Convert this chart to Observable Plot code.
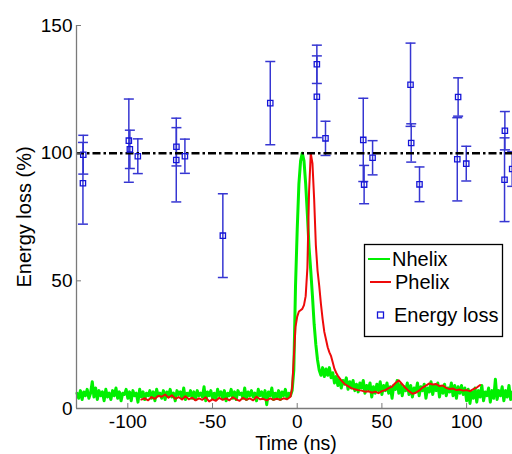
<!DOCTYPE html>
<html><head><meta charset="utf-8">
<script src="https://cdn.jsdelivr.net/npm/d3@7"></script>
<script src="https://cdn.jsdelivr.net/npm/@observablehq/plot@0.6"></script>
<style>
html,body{margin:0;padding:0;background:#fff;}
#chart{width:512px;height:454px;overflow:hidden;}
</style></head><body><div id="chart"></div>
<script>
// ---- data ----
const xTicks = [-100, -50, 0, 50, 100];
const yTicks = [0, 50, 100, 150];
const xDomain = [-130.3, 127.1];
const yDomain = [0, 150];
const referenceLevel = 100;
const seriesNames = ["Nhelix", "Phelix", "Energy loss"];
const xLabel = "Time (ns)";
const yLabel = "Energy loss (%)";

// Nhelix: sampled every 1 ns from -130 ns to 127 ns
const nhelixTime = d3.range(-130, 128);
const nhelixValues = [
  6.0,4.0,7.0,3.5,6.5,5.0,7.5,4.0,6.0,10.5,
  4.5,8.0,3.5,7.0,5.0,6.5,3.0,7.5,4.5,6.0,
  3.5,7.0,5.0,8.0,4.0,6.5,3.0,6.0,5.5,7.5,
  4.0,6.5,3.0,7.0,5.0,6.0,2.5,7.5,4.5,6.5,
  3.5,6.0,5.0,7.0,4.0,6.5,3.0,7.5,5.0,6.0,
  4.0,7.0,3.5,6.5,5.0,7.5,4.5,6.0,3.0,7.0,
  5.5,6.5,4.0,8.0,3.5,6.0,5.0,7.0,4.0,6.5,
  3.5,7.0,5.0,6.0,4.5,8.5,3.0,6.5,5.0,7.0,
  4.0,6.0,3.5,7.5,5.0,6.5,4.0,7.0,3.0,6.0,
  5.0,7.5,4.0,6.5,3.5,7.0,5.5,6.0,4.0,8.0,
  3.5,6.5,5.0,7.0,4.5,6.0,3.0,7.5,5.0,6.5,
  4.0,7.0,1.5,6.5,5.0,8.0,3.5,6.0,4.5,7.0,
  3.5,6.5,5.0,7.5,4.0,6.0,5.0,7.0,15,48,
  70,88,97,100,97,88,76,63,54,44,
  33,25,19,15,13,16,12.5,15.5,13,16,
  12,14,10,12.5,9,11.5,8,11,9.5,12,
  7.5,10.5,8,11,7,9.5,6.5,10,8,11,
  6,9,7.5,10,4.5,8.5,6,9.5,7,10.5,
  5.5,9,7,10,6,8.5,4,9,7.5,11,
  6,9.5,5,8.5,7,10,5.5,9,4.5,8,
  6.5,10,5,8.5,7,9.5,4,8,6.5,10.5,
  5.5,9,7,10,4.5,8.5,6,9.5,5,8,
  6.5,10,5,9,4,8.5,6,9,5.5,8,
  3,7.5,2,6.5,4,8,2.5,7,4.5,9,
  3,6.5,5,8,2.5,7,4,11.5,3.5,7,
  5,8.5,3,7,4.5,9,3.5,6.5
];

// Phelix
const phelixTime = [-92,-90,-88,-86,-84,-82,-80,-78,-76,-74,-72,-70,-68,-66,-64,-62,-60,-58,-56,-54,-52,-50,-48,-46,-44,-42,-40,-38,-36,-34,-32,-30,-28,-26,-24,-22,-20,-18,-16,-14,-12,-10,-8,-6,-4,-3,-2,-1,0,1,2,3,4,5,6,7,8,9,10,11,12,13,14,15,16,17,18,19,20,21,22,23,24,26,28,30,32,34,36,38,40,42,44,46,48,50,52,54,56,58,60,62,64,66,68,70,72,74,76,78,80,82,84,86,88,90,92,94,96,98,100,102,104,106,108];
const phelixValues = [3.5,4.0,3.2,4.5,3.8,5.0,4.6,5.5,4.2,5.2,3.8,4.5,3.5,4.8,3.6,4.2,3.2,4.0,3.4,4.4,2.8,3.6,3.0,4.2,3.4,4.0,3.2,4.4,3.6,3.0,4.2,3.4,4.0,3.2,4.6,3.6,3.8,3.2,4.0,3.4,3.8,3.4,4.0,3.6,4.6,8,20,32,36,38,38.5,39,40.5,44,55,85,100,96,82,64,54,48,41,35,30,27,24,22,20.5,18,15.5,14,12.8,11,9.6,8.8,8.0,7.5,7.2,7.0,6.6,6.8,6.2,6.6,6.0,6.8,7.2,8.0,8.6,10,11,9.5,8.0,6.8,5.8,6.2,7.0,8.2,9.0,9.8,9.4,9.6,8.8,9.0,8.0,7.6,7.8,7.2,7.4,7.0,7.2,6.8,7.6,8.2,9.2];

// Energy loss measurements
const lossTime  = [-126.3,-126.5,-99.4,-98.8,-94.1,-71.3,-71.4,-66.3,-43.9,-15.9,11.6,11.6,16.7,39.0,39.5,44.5,66.9,67.3,72.2,95.0,94.5,99.8,122.6,122.4,126.9];
const lossValue = [99.4,88.2,104.9,101.5,98.8,102.5,97.3,98.8,67.7,119.6,134.8,122.1,105.8,105.2,87.7,98.2,126.8,104.0,87.8,122.0,97.6,95.9,108.8,89.6,93.8];
const lossError = [7.6,16.0,16.3,7.5,6.8,7.5,16.4,6.7,16.4,16.3,7.5,16.0,6.7,16.3,7.5,6.7,16.3,7.5,6.8,7.5,16.3,6.8,7.5,16.4,6.8];

// ---- build tables ----
const nhelix = nhelixValues.map((v, i) => ({t: nhelixTime[i], v}));
const phelix = phelixValues.map((v, i) => ({t: phelixTime[i], v}));
const loss = lossValue.map((v, i) => ({t: lossTime[i], v, e: lossError[i]}));

const GREEN = "#00f000", RED = "#ee0a0a", BLUE_BAR = "#3636d2", BLUE_SQ = "#1515d8", AXIS = "#7a7a7a";
const capSymbol = {draw(ctx, size) { const w = Math.sqrt(size / Math.PI); ctx.moveTo(-w, 0); ctx.lineTo(w, 0); }};
const fmt = d => String(d);

const plot = Plot.plot({
  width: 512, height: 454,
  marginLeft: 76, marginRight: 0, marginTop: 25, marginBottom: 46,
  style: {fontFamily: "'Liberation Sans', Arial, sans-serif", fontSize: "19px", color: "black", background: "white", overflow: "hidden"},
  x: {domain: xDomain},
  y: {domain: yDomain},
  marks: [
    Plot.line(nhelix, {x: "t", y: "v", stroke: GREEN, strokeWidth: 3}),
    Plot.line(phelix, {x: "t", y: "v", stroke: RED, strokeWidth: 2}),
    Plot.ruleX(loss, {x: "t", y1: d => d.v - d.e, y2: d => d.v + d.e, stroke: BLUE_BAR, strokeWidth: 1.5}),
    Plot.dot(loss, {x: "t", y: d => d.v - d.e, symbol: capSymbol, r: 5, stroke: BLUE_BAR, fill: "none", strokeWidth: 1.5}),
    Plot.dot(loss, {x: "t", y: d => d.v + d.e, symbol: capSymbol, r: 5, stroke: BLUE_BAR, fill: "none", strokeWidth: 1.5}),
    Plot.ruleY([referenceLevel], {stroke: "black", strokeWidth: 2.5, strokeDasharray: "8,3,2.5,3"}),
    Plot.dot(loss, {x: "t", y: "v", symbol: "square", r: 3, stroke: BLUE_SQ, fill: "none", strokeWidth: 1.3}),
    Plot.ruleX([xDomain[0]], {stroke: AXIS, strokeWidth: 1.3}),
    Plot.ruleY([yDomain[0]], {stroke: AXIS, strokeWidth: 1.3}),
    Plot.axisX({ticks: xTicks, tickSize: -5, tickPadding: 11, tickFormat: fmt, stroke: AXIS, label: null, fill: "black"}),
    Plot.axisY({ticks: yTicks, tickSize: -5, tickPadding: 9, tickFormat: fmt, stroke: AXIS, label: null, fill: "black"})
  ]
});
document.getElementById("chart").appendChild(plot);

// axis titles and legend
const svg = d3.select(plot);
const font = "'Liberation Sans', Arial, sans-serif";
svg.append("text").attr("x", 296).attr("y", 450).attr("text-anchor", "middle")
  .attr("font-family", font).attr("font-size", 19.5).attr("fill", "black").text(xLabel);
svg.append("text").attr("transform", "translate(31,217) rotate(-90)").attr("text-anchor", "middle")
  .attr("font-family", font).attr("font-size", 20).attr("fill", "black").text(yLabel);

const lg = svg.append("g");
lg.append("rect").attr("x", 364.5).attr("y", 244.5).attr("width", 138).attr("height", 92)
  .attr("fill", "white").attr("stroke", "black").attr("stroke-width", 1.3);
lg.append("line").attr("x1", 368).attr("x2", 390).attr("y1", 259).attr("y2", 259).attr("stroke", GREEN).attr("stroke-width", 2);
lg.append("line").attr("x1", 370).attr("x2", 391).attr("y1", 282).attr("y2", 282).attr("stroke", RED).attr("stroke-width", 2);
lg.append("rect").attr("x", 377.5).attr("y", 312).attr("width", 6).attr("height", 6)
  .attr("fill", "none").attr("stroke", BLUE_SQ).attr("stroke-width", 1.3);
const lt = [[392, 266, seriesNames[0]], [395, 289, seriesNames[1]], [394, 322, seriesNames[2]]];
lt.forEach(([x, y, s]) => lg.append("text").attr("x", x).attr("y", y).attr("text-anchor", "start")
  .attr("font-family", font).attr("font-size", 20).attr("fill", "black").text(s));
</script></body></html>
